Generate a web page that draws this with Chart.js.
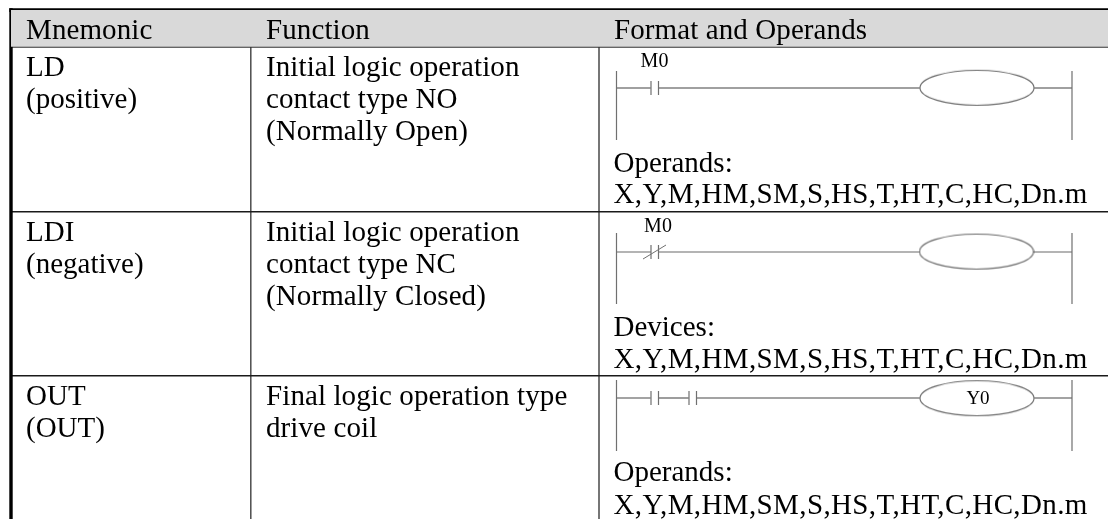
<!DOCTYPE html>
<html>
<head>
<meta charset="utf-8">
<title>Instruction table</title>
<script src="https://cdn.jsdelivr.net/npm/chart.js@4/dist/chart.umd.min.js"></script>
<style>
  html, body { margin: 0; padding: 0; background: #fff; }
  canvas { display: block; filter: blur(0.3px); }
</style>
</head>
<body>
<canvas id="table" width="1108" height="519"></canvas>
<script>
// Table content
const headers = ['Mnemonic', 'Function', 'Format and Operands'];
const mnemonics = [['LD', '(positive)'], ['LDI', '(negative)'], ['OUT', '(OUT)']];
const functions = [
  ['Initial logic operation', 'contact type NO', '(Normally Open)'],
  ['Initial logic operation', 'contact type NC', '(Normally Closed)'],
  ['Final logic operation type', 'drive coil']
];
const operandTitles = ['Operands:', 'Devices:', 'Operands:'];
const operandLists = [
  'X,Y,M,HM,SM,S,HS,T,HT,C,HC,Dn.m',
  'X,Y,M,HM,SM,S,HS,T,HT,C,HC,Dn.m',
  'X,Y,M,HM,SM,S,HS,T,HT,C,HC,Dn.m'
];
const contactLabels = ['M0', 'M0', ''];
const coilLabels = ['', '', 'Y0'];
const contactKinds = [['NO'], ['NC'], ['NO', 'NO']];

// Layout, in page pixels
const WIDTH = 1108, HEIGHT = 519;
const columnEdges = [11, 250.8, 599];
const textLeft = [26, 266, 613.5];
const headerTop = 10, headerBottom = 46.8;
const rowLines = [211.8, 375.8];
const headerBaseline = 38.5;
const rowBaselines = [[75.5, 107.5, 139.5], [240.5, 272.5, 304.5], [405, 437, 0]];
const titleBaselines = [171.7, 335.7, 481.3];
const listBaselines = [203.3, 368, 514];
const rungY = [88, 252, 398];
const railTop = [71, 233, 380];
const railBottom = [140, 304, 451];
const railX = [616.5, 1072];
const contactLeft = [[651], [651], [651, 689]];
const contactGap = 7.5;
const contactHalf = 7;
const coilLeft = 920;
const coilRight = [1034, 1033, 1034];
const coilCy = [87.8, 251.6, 398.2];
const labelX = [654.5, 658];
const labelBaseline = [66.8, 232.3];

const WIRE = ['#808080', '#6a6a6a', '#858585'];
const WIRE_WIDTH = [1.6, 1.1, 1.6];
const datasets = [];

function segment(x1, y1, x2, y2, color, width) {
  datasets.push({
    type: 'scatter', showLine: true, pointRadius: 0,
    borderColor: color, borderWidth: width,
    data: [{ x: x1, y: y1 }, { x: x2, y: y2 }]
  });
}

function coilStyle() {
  const c = document.createElement('canvas');
  c.width = 116;
  c.height = 38;
  const g = c.getContext('2d');
  g.strokeStyle = '#6a6a6a';
  g.lineWidth = 1.1;
  g.beginPath();
  g.ellipse(58, 19, 57, 17.5, 0, 0, Math.PI * 2);
  g.stroke();
  return c;
}

// Header band
datasets.push({
  type: 'scatter', showLine: true, pointRadius: 0, borderWidth: 0,
  borderColor: 'transparent', backgroundColor: '#d9d9d9',
  fill: { value: headerBottom },
  data: [{ x: columnEdges[0], y: headerTop }, { x: WIDTH, y: headerTop }]
});

// Table rules
segment(9.3, 10.1, WIDTH, 10.1, '#000', 3.6);
segment(11, 8.3, 11, HEIGHT, '#000', 3.4);
segment(columnEdges[0], headerBottom, WIDTH, headerBottom, '#333', 1.8);
rowLines.forEach(y => segment(columnEdges[0], y, WIDTH, y, '#1a1a1a', 1.6));
segment(columnEdges[1], headerTop, columnEdges[1], HEIGHT, '#4d4d4d', 1.5);
segment(columnEdges[2], headerTop, columnEdges[2], HEIGHT, '#3d3d3d', 1.4);

// Ladder rungs
rungY.forEach((y, i) => {
  const color = WIRE[i], width = WIRE_WIDTH[i];
  railX.forEach(x => segment(x, railTop[i], x, railBottom[i], '#707070', 1.2));
  let from = railX[0];
  contactLeft[i].forEach((x, k) => {
    segment(from, y, x, y, color, width);
    segment(x, y - contactHalf, x, y + contactHalf, '#707070', 1.2);
    segment(x + contactGap, y - contactHalf, x + contactGap, y + contactHalf, '#707070', 1.2);
    if (contactKinds[i][k] === 'NC') {
      segment(x - 8, y + contactHalf, x + 15, y - contactHalf, '#707070', 1);
    }
    from = x + contactGap;
  });
  segment(from, y, coilLeft, y, color, width);
  segment(coilRight[i], y, railX[1], y, color, width);
});

// Coils
datasets.push({
  type: 'scatter', showLine: false,
  pointStyle: coilStyle(),
  data: coilCy.map((y, i) => ({ x: (coilLeft + coilRight[i]) / 2, y: y }))
});

// Text goes through the same scales as the marks
const tablePlugin = {
  id: 'tableText',
  afterDatasetsDraw(chart) {
    const { ctx, scales: { x, y } } = chart;
    const put = (text, px, py, font, spacing, align) => {
      ctx.font = font;
      ctx.letterSpacing = spacing;
      ctx.textAlign = align || 'left';
      ctx.textBaseline = 'alphabetic';
      ctx.fillStyle = '#000';
      ctx.fillText(text, x.getPixelForValue(px), y.getPixelForValue(py));
    };
    const body = '29px "Liberation Serif"';
    ctx.save();
    headers.forEach((h, i) => put(h, i === 2 ? 614 : textLeft[i], headerBaseline, body, '0.1px'));
    mnemonics.forEach((lines, i) => lines.forEach((t, k) => put(t, textLeft[0], rowBaselines[i][k], body, '0px')));
    functions.forEach((lines, i) => lines.forEach((t, k) => put(t, textLeft[1], rowBaselines[i][k], body, '0.1px')));
    operandTitles.forEach((t, i) => put(t, textLeft[2], titleBaselines[i], body, '0px'));
    operandLists.forEach((t, i) => put(t, textLeft[2], listBaselines[i], body, '0.38px'));
    contactLabels.forEach((t, i) => { if (t) put(t, labelX[i], labelBaseline[i], '20px "Liberation Serif"', '0px', 'center'); });
    coilLabels.forEach((t, i) => { if (t) put(t, 978, rungY[i] + 6, '19px "Liberation Serif"', '0px', 'center'); });
    ctx.restore();
  }
};

new Chart(document.getElementById('table'), {
  type: 'scatter',
  data: { datasets },
  plugins: [tablePlugin],
  options: {
    responsive: false,
    animation: false,
    events: [],
    layout: { padding: 0, autoPadding: false },
    plugins: { legend: { display: false }, tooltip: { enabled: false } },
    scales: {
      x: { type: 'linear', display: false, min: 0, max: WIDTH },
      y: { type: 'linear', display: false, reverse: true, min: 0, max: HEIGHT }
    }
  }
});
</script>
</body>
</html>
